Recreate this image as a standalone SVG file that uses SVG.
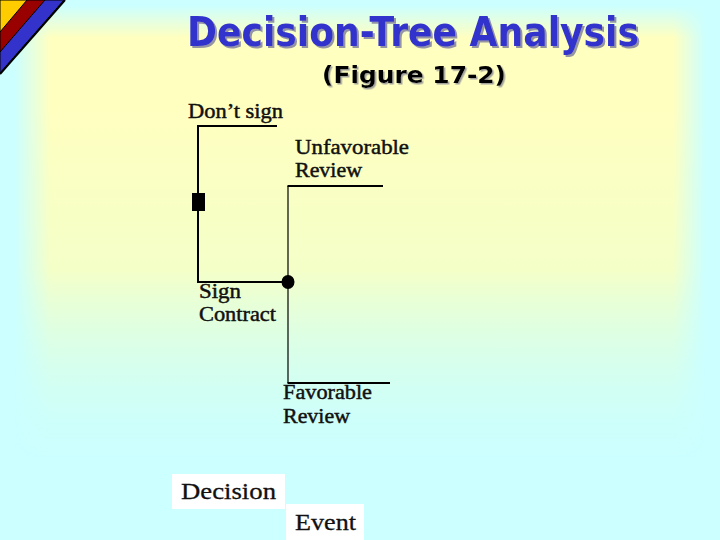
<svg xmlns="http://www.w3.org/2000/svg" width="720" height="540" viewBox="0 0 720 540">
  <defs>
    <linearGradient id="gh" gradientUnits="userSpaceOnUse" x1="0" y1="0" x2="720" y2="0">
      <stop offset="0.02" stop-color="#000"/>
      <stop offset="0.07" stop-color="#fff"/>
      <stop offset="0.935" stop-color="#fff"/>
      <stop offset="0.98" stop-color="#000"/>
    </linearGradient>
    <linearGradient id="gv" gradientUnits="userSpaceOnUse" x1="0" y1="0" x2="0" y2="540">
      <stop offset="0.01" stop-color="#000"/>
      <stop offset="0.07" stop-color="#fff"/>
      <stop offset="0.5" stop-color="#fff" stop-opacity="1"/>
      <stop offset="0.85" stop-color="#000"/>
    </linearGradient>
    <mask id="mh" maskUnits="userSpaceOnUse" x="0" y="0" width="720" height="540">
      <rect x="0" y="0" width="720" height="540" fill="url(#gh)"/>
    </mask>
    <mask id="mv" maskUnits="userSpaceOnUse" x="0" y="0" width="720" height="540">
      <rect x="0" y="0" width="720" height="540" fill="url(#gv)"/>
    </mask>
    <linearGradient id="yel" gradientUnits="userSpaceOnUse" x1="0" y1="0" x2="0" y2="540">
      <stop offset="0.2" stop-color="#ffffc0"/>
      <stop offset="0.5" stop-color="#f4ffc8"/>
      <stop offset="0.8" stop-color="#d4ffe8"/>
    </linearGradient>
    <filter id="shadow" x="-5%" y="-20%" width="110%" height="140%">
      <feDropShadow dx="2" dy="2" stdDeviation="0.4" flood-color="#8888a0" flood-opacity="0.9"/>
    </filter>
    <filter id="shadow2" x="-5%" y="-20%" width="110%" height="140%">
      <feDropShadow dx="1.5" dy="1.5" stdDeviation="0.4" flood-color="#999999" flood-opacity="0.9"/>
    </filter>
    <style>
      .ln { stroke: #000; stroke-width: 2; fill: none; }
      .thin { stroke: #000; stroke-width: 1.2; fill: none; }
      .lbl { font-family: "Liberation Serif", "Times New Roman", serif; font-size: 20px; fill: #111; stroke: #111; stroke-width: 0.45; }
      .key { font-family: "Liberation Serif", "Times New Roman", serif; font-size: 23px; fill: #111; stroke: #111; stroke-width: 0.3; }
      .title { font-family: "DejaVu Sans", Verdana, sans-serif; font-weight: bold; }
    </style>
  </defs>
  <rect x="0" y="0" width="720" height="540" fill="#ccffff"/>
  <g mask="url(#mh)">
    <rect x="0" y="0" width="720" height="540" fill="url(#yel)" mask="url(#mv)"/>
  </g>

  <!-- corner decoration -->
  <g id="corner" stroke="#000" stroke-width="1">
    <polygon points="0,0 64,0 0,73" fill="#3333cc"/>
    <polygon points="0,0 45,0 0,52" fill="#990000"/>
    <polygon points="0,0 27,0 0,32" fill="#ffcc00"/>
    <line x1="65" y1="0" x2="0" y2="74" stroke-width="2"/>
  </g>

  <!-- titles -->
  <g id="title">
    <text class="title" x="413" y="46" text-anchor="middle" font-size="40" fill="#3333cc" filter="url(#shadow)" textLength="452" lengthAdjust="spacingAndGlyphs">Decision-Tree Analysis</text>
    <text class="title" x="414" y="83" text-anchor="middle" font-size="23" fill="#000" filter="url(#shadow2)" textLength="184" lengthAdjust="spacingAndGlyphs">(Figure 17-2)</text>
  </g>

  <!-- connectors -->
  <g id="connectors">
    <polyline class="ln" points="277,126 198,126 198,282 288,282"/>
    <line class="thin" x1="288" y1="186" x2="288" y2="383"/>
    <line class="ln" x1="287.5" y1="186" x2="383" y2="186"/>
    <line class="ln" x1="287.5" y1="383" x2="390" y2="383"/>
  </g>

  <!-- nodes -->
  <g id="decision-node">
    <rect x="192" y="193" width="13" height="18" fill="#000"/>
  </g>
  <g id="event-node">
    <ellipse cx="288" cy="282" rx="6.5" ry="7" fill="#000"/>
  </g>

  <g id="dont-sign"><text class="lbl" x="188" y="118" textLength="95" lengthAdjust="spacingAndGlyphs">Don’t sign</text></g>
  <g id="unfavorable">
    <text class="lbl" x="295" y="154" textLength="114" lengthAdjust="spacingAndGlyphs">Unfavorable</text>
    <text class="lbl" x="295" y="177" textLength="67" lengthAdjust="spacingAndGlyphs">Review</text>
  </g>
  <g id="sign-contract">
    <text class="lbl" x="199" y="298" textLength="42" lengthAdjust="spacingAndGlyphs">Sign</text>
    <text class="lbl" x="199" y="321" textLength="77" lengthAdjust="spacingAndGlyphs">Contract</text>
  </g>
  <g id="favorable">
    <text class="lbl" x="283" y="399" textLength="89" lengthAdjust="spacingAndGlyphs">Favorable</text>
    <text class="lbl" x="283" y="423" textLength="67" lengthAdjust="spacingAndGlyphs">Review</text>
  </g>

  <!-- legend -->
  <g id="legend-decision">
    <rect x="172" y="474" width="113" height="35" fill="#ffffff"/>
    <text class="key" x="181" y="499" textLength="95" lengthAdjust="spacingAndGlyphs">Decision</text>
  </g>
  <g id="legend-event">
    <rect x="286" y="504" width="78" height="36" fill="#ffffff"/>
    <text class="key" x="295" y="530" textLength="61" lengthAdjust="spacingAndGlyphs">Event</text>
  </g>
</svg>
